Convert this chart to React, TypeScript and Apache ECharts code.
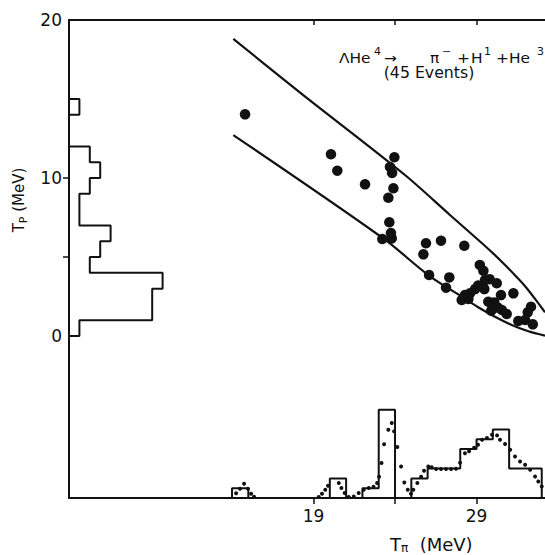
import React, { useEffect, useRef } from "react";
import * as echarts from "echarts";

// T_p histogram (left): 1 MeV bins starting at 0 MeV
const tpBinStart = 0;
const tpCounts = [1, 8, 8, 9, 2, 3, 4, 1, 1, 2, 3, 2, 0, 0, 1];

// T_pi histogram (bottom): 1 MeV bins starting at 14 MeV
const tpiBinStart = 14;
const tpiCounts = [1, 0, 0, 0, 0, 0, 2, 0, 1, 9, 0, 2, 3, 3, 5, 6, 7, 3, 3];

// dotted (calculated) T_pi distribution [T_pi, events]
const tpiCurve = [
  [14.25, 0.49], [14.49, 0.95], [14.74, 1.46], [14.98, 0.95], [15.17, 0.44], [15.35, 0.13],
  [19.32, 0.1], [19.52, 0.44], [19.72, 0.85], [19.89, 1.26], [20.55, 1.53], [20.71, 1.02],
  [20.91, 0.51], [21.16, 0.1], [21.47, 0.16], [21.77, 0.51], [22.08, 0.85], [22.39, 1.02],
  [22.68, 1.15], [22.9, 1.53], [23.02, 2.17], [23.17, 3.57], [23.33, 5.49], [23.59, 6.97],
  [23.8, 7.65], [23.94, 6.8], [24.14, 5.2], [24.37, 3.22], [24.57, 1.59], [24.78, 0.85],
  [24.98, 0.44], [25.12, 0.85], [25.37, 1.53], [25.6, 2.17], [25.78, 2.79], [26.04, 3.22],
  [26.25, 3.14], [26.52, 2.96], [26.82, 2.96], [27.13, 2.96], [27.44, 2.96], [27.74, 2.99],
  [27.99, 3.6], [28.29, 4.57], [28.54, 4.78], [28.85, 5.13], [29.09, 5.44], [29.34, 5.95],
  [29.64, 6.12], [29.95, 6.46], [30.26, 6.39], [30.44, 5.95], [30.75, 5.51], [31.06, 4.93],
  [31.36, 4.24], [31.67, 3.73], [31.98, 3.4], [32.29, 2.89], [32.59, 2.2], [32.79, 1.69],
  [33.0, 1.18],
];

// events [T_pi, T_p]
const events = [
  [14.8, 14.03], [20.07, 11.5], [20.46, 10.46], [22.16, 9.6], [23.96, 11.31],
  [23.69, 10.7], [23.82, 10.32], [23.9, 9.35], [23.59, 8.75], [23.65, 7.2],
  [23.22, 6.14], [23.8, 6.18], [23.75, 6.52],
  [25.9, 5.87], [25.74, 5.17], [26.82, 6.03], [28.25, 5.71], [26.09, 3.86], [27.33, 3.71], [27.13, 3.06],
  [29.42, 4.13], [29.52, 3.54], [30.24, 3.34], [29.48, 2.97], [28.91, 2.97], [28.6, 2.7],
  [28.29, 2.59], [28.09, 2.28], [28.5, 2.34], [30.5, 2.59], [31.26, 2.7], [29.72, 2.17],
  [30.09, 2.13], [30.55, 1.65], [30.85, 1.39], [32.34, 1.85], [32.14, 1.5], [31.56, 0.95],
  [31.98, 1.01], [32.45, 0.74],
  [29.2, 4.5], [29.8, 3.6], [30.3, 1.8], [29.9, 1.6], [29.1, 3.2],
];

// kinematic boundary [T_pi, T_p]
const upperBound = [
  [14.08, 18.8], [18.37, 15.25], [24.61, 10.19], [27.37, 7.66], [29.11, 6.08],
  [30.0, 5.25], [30.75, 4.49], [31.4, 3.8], [31.98, 3.15], [32.59, 2.35], [33.2, 1.5],
];
const lowerBound = [
  [14.08, 12.72], [23.28, 6.18], [26.04, 3.86], [28.09, 2.49], [29.1, 1.82], [30.13, 1.22],
  [31.16, 0.7], [32.18, 0.3], [33.2, 0.02],
];

const xTicks = [19, 24, 29];
const xLabels = [19, 29];
const yTicks = [5, 10];
const yLabels = [0, 10, 20];

// reaction label pieces: [text, isSuperscript, left x]
const reactionParts: [string, boolean, number][] = [
  ["ΛHe", false, 339], ["4", true, 374], ["→", false, 384],
  ["π", false, 430], ["−", true, 442], ["+", false, 457], ["H", false, 471], ["1", true, 484],
  ["+", false, 496], ["He", false, 509], ["3", true, 537],
];

function stepH(start: number, counts: number[]) {
  const pts: number[][] = [[start, 0]];
  counts.forEach((c, i) => {
    pts.push([start + i, c], [start + i + 1, c]);
  });
  pts.push([start + counts.length, 0]);
  return pts;
}

export default function App() {
  const ref = useRef<HTMLDivElement>(null);
  useEffect(() => {
    if (!ref.current) return;
    const chart = echarts.init(ref.current, null, { renderer: "svg" });
    const ink = "#111";
    const font = "DejaVu Sans";
    const bottomHist = stepH(tpiBinStart, tpiCounts);
    const leftHist = stepH(tpBinStart, tpCounts).map(([t, c]) => [c, t]);
    const reactionTexts = reactionParts.map(([t, sup, x]) => ({
      type: "text", x, y: sup ? 51 : 58, scaleX: 1.1,
      style: {
        text: t, fill: ink, font: `${sup ? 10 : 14}px "${font}"`,
        align: "left", verticalAlign: "middle",
      },
    }));
    chart.setOption({
      animation: false,
      backgroundColor: "#fff",
      grid: [
        { left: 69, top: 20, right: 0, bottom: 57 },
        { left: 69, top: 20, width: 104, bottom: 57 },
        { left: 69, right: 0, bottom: 57, height: 98 },
      ],
      xAxis: [
        {
          type: "value", gridIndex: 0, position: "bottom", min: 4, max: 33.2,
          axisLine: { show: true, onZero: false, lineStyle: { color: ink, width: 2 } },
          axisTick: { show: true, customValues: xTicks, length: 6, lineStyle: { color: ink, width: 1.5 } },
          axisLabel: { show: true, customValues: xLabels, fontSize: 17, fontFamily: font, color: ink, margin: 9 },
          splitLine: { show: false },
        },
        {
          type: "value", gridIndex: 0, position: "top", min: 4, max: 33.2,
          axisLine: { show: true, onZero: false, lineStyle: { color: ink, width: 2 } },
          axisTick: { show: true, inside: true, customValues: xTicks, length: 5, lineStyle: { color: ink, width: 1.5 } },
          axisLabel: { show: false },
          splitLine: { show: false },
        },
        { type: "value", gridIndex: 1, min: 0, max: 10, show: false },
        { type: "value", gridIndex: 2, min: 4, max: 33.2, show: false },
      ],
      yAxis: [
        {
          type: "value", gridIndex: 0, min: -10.25, max: 20,
          axisLine: { show: true, onZero: false, lineStyle: { color: ink, width: 2 } },
          axisTick: { show: true, customValues: yTicks, length: 6, lineStyle: { color: ink, width: 1.5 } },
          axisLabel: { show: true, customValues: yLabels, fontSize: 17, fontFamily: font, color: ink, margin: 7 },
          splitLine: { show: false },
        },
        { type: "value", gridIndex: 1, min: -10.25, max: 20, show: false },
        { type: "value", gridIndex: 2, min: 0, max: 10, show: false },
      ],
      series: [
        {
          type: "line", xAxisIndex: 0, yAxisIndex: 0, data: upperBound, smooth: 0.3,
          symbol: "none", lineStyle: { color: ink, width: 2.2 },
        },
        {
          type: "line", xAxisIndex: 0, yAxisIndex: 0, data: lowerBound, smooth: 0.3,
          symbol: "none", lineStyle: { color: ink, width: 2.2 },
        },
        {
          type: "scatter", xAxisIndex: 0, yAxisIndex: 0, data: events,
          symbol: "circle", symbolSize: 10.5, itemStyle: { color: ink, opacity: 1 },
        },
        {
          type: "line", xAxisIndex: 2, yAxisIndex: 1, data: leftHist,
          symbol: "none", lineStyle: { color: ink, width: 2 },
        },
        {
          type: "line", xAxisIndex: 3, yAxisIndex: 2, data: bottomHist,
          symbol: "none", lineStyle: { color: ink, width: 2 },
        },
        {
          type: "scatter", xAxisIndex: 3, yAxisIndex: 2, data: tpiCurve,
          symbol: "circle", symbolSize: 4, itemStyle: { color: ink, opacity: 1 },
        },
      ],
      graphic: [
        ...reactionTexts,
        {
          type: "text", x: 429, y: 73, scaleX: 1.05,
          style: { text: "(45 Events)", fill: ink, font: `15px "${font}"`, align: "center", verticalAlign: "middle" },
        },
        {
          type: "text", left: 390, top: 535,
          style: {
            text: "{m|T}{s|π}{m|  (MeV)}",
            fill: ink,
            rich: {
              m: { fontSize: 18, fontFamily: font, fill: ink, lineHeight: 19, verticalAlign: "top" },
              s: { fontSize: 12, fontFamily: font, fill: ink, lineHeight: 12, verticalAlign: "bottom" },
            },
          },
        },
        {
          type: "text", x: 20, y: 200, rotation: Math.PI / 2,
          style: {
            text: "{m|T}{s|P}{m| (MeV)}",
            fill: ink, align: "center", verticalAlign: "middle",
            rich: {
              m: { fontSize: 15, fontFamily: font, fill: ink, lineHeight: 18, verticalAlign: "top" },
              s: { fontSize: 11, fontFamily: font, fill: ink, lineHeight: 11, verticalAlign: "bottom" },
            },
          },
        },
      ],
    });
    return () => chart.dispose();
  }, []);
  return <div ref={ref} style={{ position: "absolute", left: 0, top: 0, width: 545, height: 555 }} />;
}
